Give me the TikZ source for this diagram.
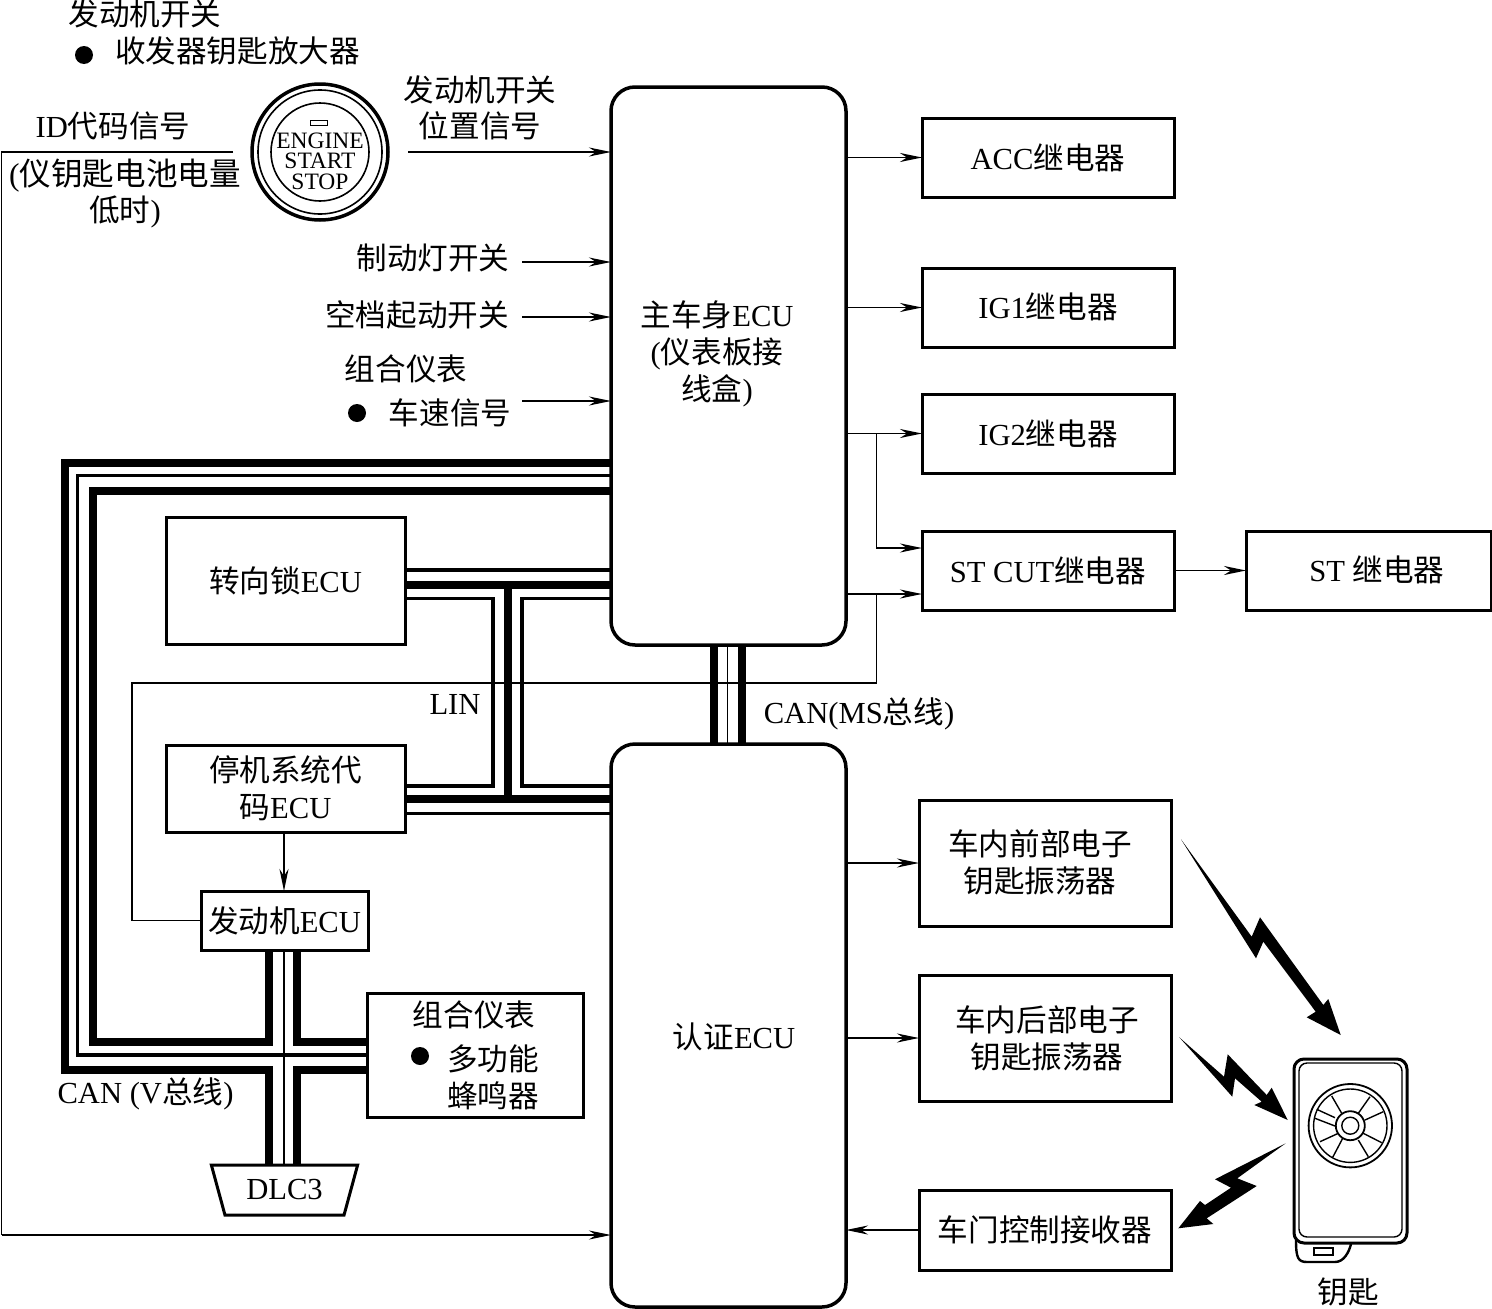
\documentclass[tikz,border=0pt]{standalone}
\usepackage{fontspec}
\setmainfont{Liberation Serif}
\newfontfamily\cjk{Noto Sans CJK SC}
\newcommand{\C}[1]{{\cjk #1}}
\usetikzlibrary{arrows.meta,shapes.geometric}
\tikzset{
  box/.style={draw,line width=3pt,rectangle,outer sep=0pt,inner sep=0pt,align=center,font=\fontsize{30.6}{37}\selectfont},
  ecu/.style={box,line width=3.5pt,rounded corners=24pt,minimum width=235pt},
  txt/.style={inner sep=0pt,outer sep=0pt,align=center,font=\fontsize{30.6}{37}\selectfont},
  wire/.style={line width=1.9pt},
  arrow/.style={wire,-{Stealth[length=22pt,width=9pt,inset=7pt]}},
  thickbus/.style={line width=8pt,miter limit=10},
  thinbus/.style={line width=3.5pt},
  hair/.style={line width=1.6pt},
  bolt/.style={fill=black,draw=none},
  bullet/.style={circle,fill=black,minimum size=18pt,inner sep=0pt,outer sep=0pt},
  keyline/.style={line width=1.4pt}
}
\begin{document}
\begin{tikzpicture}[x=1pt,y=-1pt]
\useasboundingbox[fill=white] (0,0) rectangle (1492,1309);
% main boxes
\node[ecu,minimum height=558pt] (main) at (728.5,366) {};
\node[ecu,minimum height=563pt] (auth) at (728.5,1025.5) {};
\node[txt] (mainT) at (717,354) {\C{主车身}ECU\\(\C{仪表板接}\\\C{线盒})};
\node[txt] (authT) at (734,1037) {\C{认证}ECU};
% relay boxes
\node[box,minimum width=252pt,minimum height=79pt] (acc) at (1048,157.5) {\raisebox{2pt}{ACC\C{继电器}}};
\node[box,minimum width=252pt,minimum height=79pt] (ig1) at (1048,307.5) {\raisebox{3pt}{IG1\C{继电器}}};
\node[box,minimum width=252pt,minimum height=79pt] (ig2) at (1048,433.5) {IG2\C{继电器}};
\node[box,minimum width=252pt,minimum height=79pt] (stcut) at (1048,570.5) {ST CUT\C{继电器}};
\node[box,minimum width=245pt,minimum height=79pt] (st) at (1368.5,570.5) {};
\node[txt] (stT) at (1377,570) {ST \C{继电器}};
% left boxes
\node[box,minimum width=239pt,minimum height=127pt] (lock) at (285.5,580.5) {\raisebox{1.5pt}{\C{转向锁}ECU}};
\node[box,minimum width=239pt,minimum height=87pt] (immo) at (285.5,788.5) {\C{停机系统代}\\\C{码}ECU};
\node[box,minimum width=167pt,minimum height=59pt] (eng) at (284.5,920.5) {\raisebox{-1.5pt}{\C{发动机}ECU}};
\node[box,minimum width=216pt,minimum height=124pt] (meter) at (475,1055) {};
\node[txt] (meterA) at (474,1015) {\C{组合仪表}};
\node[bullet] (meterB) at (420,1056) {};
\node[txt] (meterC) at (493,1077) {\C{多功能}\\\C{蜂鸣器}};
\node[draw,line width=3pt,trapezium,shape border rotate=180,trapezium stretches=true,trapezium left angle=67,trapezium right angle=67,minimum width=147pt,minimum height=50pt,outer sep=0pt,inner sep=0pt,font=\fontsize{30.6}{37}\selectfont] (dlc) at (284.5,1190) {DLC3};
% oscillators
\node[box,minimum width=252pt,minimum height=126pt] (osc1) at (1045,863) {};
\node[txt] (osc1T) at (1040,862) {\C{车内前部电子}\\\C{钥匙振荡器}};
\node[box,minimum width=252pt,minimum height=126pt] (osc2) at (1045,1038) {};
\node[txt] (osc2T) at (1047,1038.5) {\C{车内后部电子}\\\C{钥匙振荡器}};
\node[box,minimum width=252pt,minimum height=80pt] (recv) at (1045,1230) {\C{车门控制接收器}};
% free ends
\coordinate (in0) at (408,152);
\coordinate (in1) at (522,262);
\coordinate (in2) at (522,317);
\coordinate (in3) at (522,401);
\coordinate (idA) at (233,152);
\coordinate (idB) at (1.5,152);
\coordinate (idC) at (1.5,1235);
\coordinate (brA) at (876.5,434);
\coordinate (brB) at (876.5,594);
\coordinate (brC) at (876.5,683);
\coordinate (brD) at (132,683);
% input arrows
\draw[arrow] (in0) -- (in0 -| main.west);
\draw[arrow] (in1) -- (in1 -| main.west);
\draw[arrow] (in2) -- (in2 -| main.west);
\draw[arrow] (in3) -- (in3 -| main.west);
\draw[wire] (idA) -- (idB) -- (idC);
\draw[arrow] (idC) -- (idC -| auth.west);
% output arrows
\draw[arrow] (main.east |- acc.west) -- (acc.west);
\draw[arrow] (main.east |- ig1.west) -- (ig1.west);
\draw[arrow] (main.east |- ig2.west) -- (ig2.west);
\draw[arrow] (brA) |- (stcut.west |- 0,548);
\draw[arrow] (main.east |- brB) -- (stcut.west |- brB);
\draw[arrow] (stcut.east) -- (st.west);
\draw[wire] (brB) -- (brC) -- (brD) |- (eng.west);
\draw[arrow] (immo.south -| 284,0) -- (eng.north -| 284,0);
\draw[arrow] (auth.east |- osc1.west) -- (osc1.west);
\draw[arrow] (auth.east |- osc2.west) -- (osc2.west);
\draw[arrow] (recv.west) -- (auth.east |- recv.west);
% CAN V bus
\coordinate (vL) at (269,0);
\coordinate (vM) at (284,0);
\coordinate (vR) at (297,0);
\draw[thickbus] (main.west |- 0,463) -- (65,463) -- (65,1069.5) -- (vL |- 0,1069.5) -- (vL |- dlc.bottom side);
\draw[thickbus] (main.west |- 0,491) -- (93,491) -- (93,1042) -- (vL |- 0,1042) -- (vL |- eng.south);
\draw[thinbus] (main.west |- 0,475.5) -- (77.5,475.5) -- (77.5,1055) -- (meter.west);
\draw[thickbus] (vR |- eng.south) -- (vR |- 0,1042) -- (meter.west |- 0,1042);
\draw[thickbus] (meter.west |- 0,1069.5) -- (vR |- 0,1069.5) -- (vR |- dlc.bottom side);
\draw[hair,line width=2pt] (vM |- eng.south) -- (vM |- dlc.bottom side);
% lock / immobiliser bus
\draw[thinbus] (lock.east |- 0,570) -- (main.west |- 0,570);
\draw[thickbus] (lock.east |- 0,585) -- (main.west |- 0,585);
\draw[thinbus] (lock.east |- 0,598.5) -- (493,598.5) -- (493,786) -- (immo.east |- 0,786);
\draw[thinbus] (main.west |- 0,598.5) -- (522,598.5) -- (522,786) -- (auth.west |- 0,786);
\draw[thickbus] (508,585) -- (508,798.5);
\draw[thickbus] (immo.east |- 0,798.5) -- (auth.west |- 0,798.5);
\draw[thinbus] (immo.east |- 0,813.5) -- (auth.west |- 0,813.5);
% CAN MS bus
\draw[thickbus] (main.south -| 714,0) -- (auth.north -| 714,0);
\draw[hair] (main.south -| 727.5,0) -- (auth.north -| 727.5,0);
\draw[thickbus] (main.south -| 742,0) -- (auth.north -| 742,0);
% labels
\node[txt] (t1) at (145,14) {\C{发动机开关}};
\node[bullet] (b1) at (84,55) {};
\node[txt] (t2) at (237.5,51) {\C{收发器钥匙放大器}};
\node[txt] (t3) at (113,126) {ID\C{代码信号}};
\node[txt,font=\fontsize{31.6}{37}\selectfont] (t4) at (125,176) {(\C{仪钥匙电池电量}};
\node[txt] (t5) at (125,212) {\C{低时})};
\node[txt] (t6) at (480,90) {\C{发动机开关}};
\node[txt] (t7) at (480,126) {\C{位置信号}};
\node[txt] (t8) at (433,258) {\C{制动灯开关}};
\node[txt] (t9) at (417,315) {\C{空档起动开关}};
\node[txt] (t10) at (406,369) {\C{组合仪表}};
\node[bullet] (b2) at (357,413) {};
\node[txt] (t11) at (450,413) {\C{车速信号}};
\node[txt] (t12) at (455,704) {LIN};
\node[txt] (t13) at (859,714) {CAN(MS\C{总线})};
\node[txt] (t14) at (145.5,1094) {CAN (V\C{总线})};
\node[txt] (t15) at (1348.5,1292) {\C{钥匙}};
% start button
\node[circle,draw,line width=3.5pt,minimum size=136pt,inner sep=0pt] (btn) at (320,152) {};
\node[circle,draw,line width=1.6pt,minimum size=124pt,inner sep=0pt] (btn2) at (320,152) {};
\node[circle,draw,line width=1.6pt,minimum size=98pt,inner sep=0pt] (btn3) at (320,152) {};
\node[draw,line width=1.4pt,minimum width=17pt,minimum height=5pt,inner sep=0pt] (btnL) at (319,123) {};
\node[inner sep=0pt,align=center,font=\fontsize{23.5}{20.5}\selectfont] (btnT) at (320,161) {ENGINE\\START\\STOP};
% bolts
\fill[bolt] (1181,839.3) -- (1251.7,936.7) -- (1260,917.3) -- (1323.3,1005) -- (1328.3,999) -- (1340.7,1035) -- (1306.7,1017.3) -- (1315.7,1011.7) -- (1263.3,941.7) -- (1256,958.3) -- cycle;
\fill[bolt] (1179.3,1037.3) -- (1224,1076.7) -- (1227.7,1054.3) -- (1266.7,1095) -- (1271.7,1087.7) -- (1287.7,1120) -- (1254.3,1105) -- (1261.7,1101.7) -- (1235,1078.3) -- (1232.3,1096.7) -- cycle;
\fill[bolt] (1285.7,1143.3) -- (1237.3,1178.3) -- (1256.7,1186) -- (1206.7,1218.3) -- (1213.3,1224) -- (1178.3,1228.3) -- (1200,1201) -- (1205,1205) -- (1231,1187.7) -- (1215,1179.3) -- cycle;
% key fob
\draw[line width=3pt,rounded corners=10pt] (1294,1059) rectangle (1407,1243);
\draw[keyline,rounded corners=8pt] (1299,1063) rectangle (1402,1237);
\draw[line width=2.4pt] (1296,1240) .. controls (1296,1258) and (1298,1262) .. (1307,1262) -- (1335,1262) .. controls (1344,1262) and (1349,1252) .. (1351,1244);
\draw[keyline] (1314,1248) rectangle (1333,1255);
\coordinate (kc) at (1350.3,1125.7);
\draw[line width=1.8pt] (kc) circle (41.7);
\draw[keyline] (kc) circle (36.7);
\draw[line width=1.8pt] (kc) circle (14.5);
\draw[keyline] (kc) circle (8.5);
\draw[keyline] (1331.7,1096) -- (1341.7,1113.3);
\draw[keyline] (1370,1096.7) -- (1358.3,1113.3);
\draw[keyline] (1316.7,1109.3) -- (1335,1117.7);
\draw[keyline] (1315,1118.3) -- (1335,1126);
\draw[keyline] (1383.3,1111.7) -- (1365,1120);
\draw[keyline] (1320,1141.7) -- (1338.3,1133.3);
\draw[keyline] (1363.3,1133.3) -- (1381.7,1142.7);
\draw[keyline] (1342.7,1138.3) -- (1332.7,1157.3);
\draw[keyline] (1358.3,1140) -- (1368.3,1156.7);
\end{tikzpicture}
\end{document}
